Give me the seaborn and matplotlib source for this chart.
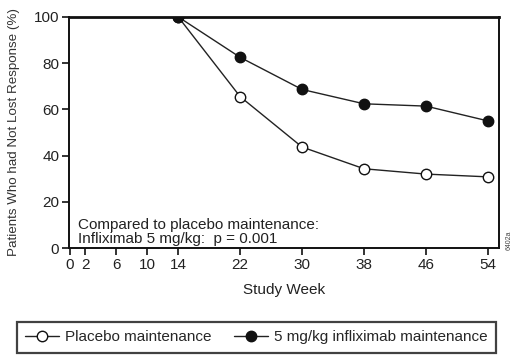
import matplotlib
matplotlib.use("Agg")
import matplotlib.pyplot as plt
import seaborn as sns
import pandas as pd
from matplotlib.lines import Line2D

weeks = [14, 22, 30, 38, 46, 54]
placebo = [100, 65.5, 43.7, 34.3, 32.0, 30.8]
infliximab = [100, 82.5, 68.6, 62.4, 61.4, 55.0]
xticks = [0, 2, 6, 10, 14, 22, 30, 38, 46, 54]
yticks = [0, 20, 40, 60, 80, 100]

sns.set_theme(style="white")
plt.rcParams['font.family'] = ['Liberation Sans', 'DejaVu Sans']

df = pd.DataFrame({
    "week": weeks * 2,
    "value": placebo + infliximab,
    "group": ["Placebo maintenance"] * len(weeks) + ["5 mg/kg infliximab maintenance"] * len(weeks),
})

fig = plt.figure(figsize=(5.19, 3.59), dpi=100)
ax = fig.add_axes([0.133, 0.309, 0.828, 0.644])

MS = 7.5
sns.lineplot(data=df[df.group == "Placebo maintenance"], x="week", y="value", ax=ax,
             color="#222222", lw=1.0, marker="o", markersize=MS,
             markerfacecolor="white", markeredgecolor="#111111", markeredgewidth=1.0)
sns.lineplot(data=df[df.group != "Placebo maintenance"], x="week", y="value", ax=ax,
             color="#222222", lw=1.0, marker="o", markersize=MS,
             markerfacecolor="#111111", markeredgecolor="#111111", markeredgewidth=1.0)

ax.set_xlim(-0.1, 55.4)
ax.set_ylim(0, 100)
ax.set_xticks(xticks)
ax.set_xticklabels([str(t) for t in xticks])
ax.set_yticks(yticks)
ax.tick_params(axis="both", direction="out", length=5, width=1.2, color="#111111",
               labelsize=11, labelcolor="#222222", pad=2, bottom=True, left=True)
for side in ["left", "bottom", "right"]:
    ax.spines[side].set_color("#111111")
    ax.spines[side].set_linewidth(1.4)
ax.spines["top"].set_color("#111111")
ax.spines["top"].set_linewidth(2.0)
ax.set_xlabel("Study Week", fontsize=11, color="#222222", labelpad=8)
ax.set_ylabel("Patients Who had Not Lost Response (%)", fontsize=9.6, color="#333333")
ax.yaxis.set_label_coords(-0.115, 0.5)

ax.text(1.0, 8.2, "Compared to placebo maintenance:", fontsize=11, color="#222222", va="baseline")
ax.text(1.0, 2.2, "Infliximab 5 mg/kg:  p = 0.001", fontsize=11, color="#222222", va="baseline")
fig.text(0.975, 0.31, "6402a", fontsize=5, rotation=90, color="#444444")

handles = [
    Line2D([], [], color="#222222", lw=1.0, marker="o", markersize=MS,
           markerfacecolor="white", markeredgecolor="#111111"),
    Line2D([], [], color="#222222", lw=1.0, marker="o", markersize=MS,
           markerfacecolor="#111111", markeredgecolor="#111111"),
]
leg = fig.legend(handles, ["Placebo maintenance", "5 mg/kg infliximab maintenance"],
                 loc="center", bbox_to_anchor=(0.494, 0.061), ncol=2, frameon=True,
                 fancybox=False, edgecolor="#111111", fontsize=11, handlelength=2.2,
                 columnspacing=1.5, handletextpad=0.4, borderpad=0.55, borderaxespad=0)
leg.get_frame().set_linewidth(1.6)

fig.savefig("out.png", dpi=100)
